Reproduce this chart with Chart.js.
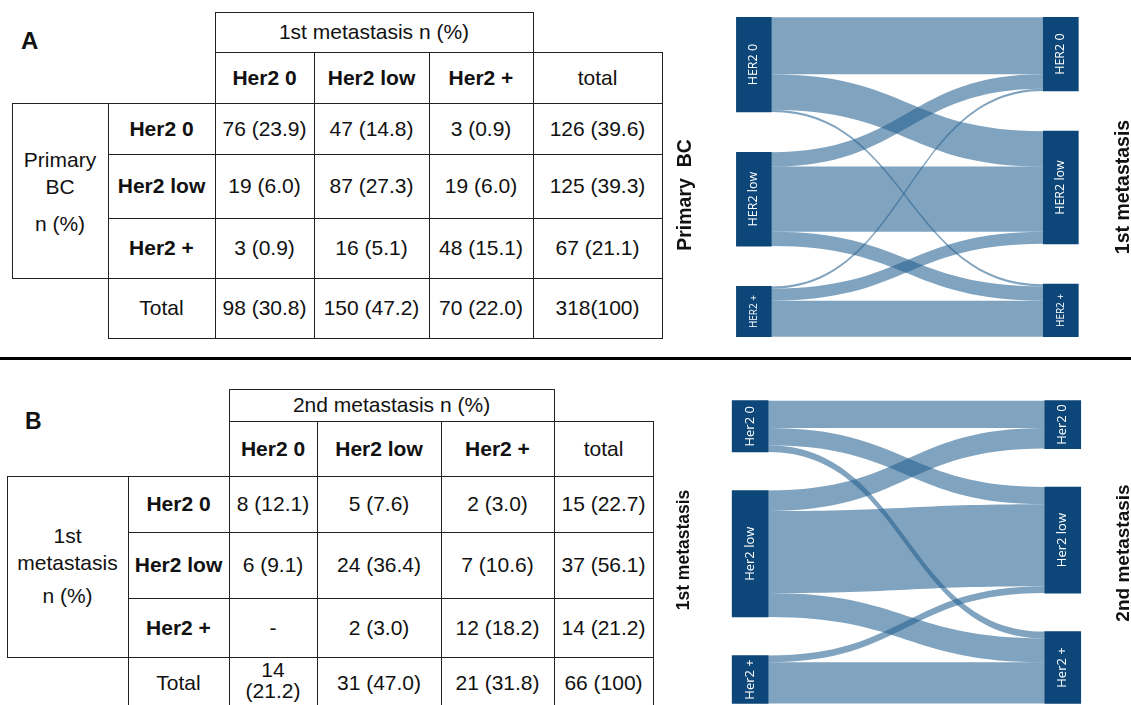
<!DOCTYPE html>
<html>
<head>
<meta charset="utf-8">
<script src="https://cdn.jsdelivr.net/npm/chart.js@4.4.1/dist/chart.umd.min.js"></script>
<style>
  html, body { margin: 0; padding: 0; background: #fff; width: 1131px; height: 705px; overflow: hidden; }
  #page { position: relative; width: 1131px; height: 705px; font-family: "Liberation Sans", Arial, sans-serif; color: #111; }
  .box { position: absolute; box-sizing: border-box; border: 1px solid #222; }
  .txt { position: absolute; height: 24px; line-height: 24px; font-size: 21px; text-align: center; white-space: pre; }
  .b { font-weight: bold; }
  .panel { position: absolute; font-weight: bold; font-size: 24px; line-height: 24px; }
  .sep { position: absolute; left: 0; top: 357px; width: 1131px; height: 3px; background: #000; }
  canvas { position: absolute; }
</style>
</head>
<body>
<div id="page">
  <div class="panel" style="left:21px;top:29px;">A</div>
  <div class="panel" style="left:25px;top:409px;font-size:23px;">B</div>
  <div class="sep"></div>
  <canvas id="sankeyA" width="466" height="350" style="left:665px;top:0px;"></canvas>
  <canvas id="sankeyB" width="466" height="345" style="left:665px;top:360px;"></canvas>
</div>
<script>
// HER2 categories shared by both cross-tables
const GROUPS = ['Her2 0', 'Her2 low', 'Her2 +'];

// A: primary breast cancer (rows) -> 1st metastasis (columns)
const A_COUNTS = [[76, 47, 3], [19, 87, 19], [3, 16, 48]];
const A_PCT = [['23.9', '14.8', '0.9'], ['6.0', '27.3', '6.0'], ['0.9', '5.1', '15.1']];
const A_ROW_TOTALS = ['126 (39.6)', '125 (39.3)', '67 (21.1)'];
const A_COL_TOTALS = ['98 (30.8)', '150 (47.2)', '70 (22.0)', '318(100)'];
const A_NODE_LABELS = ['HER2 0', 'HER2 low', 'HER2 +'];

// B: 1st metastasis (rows) -> 2nd metastasis (columns)
const B_COUNTS = [[8, 5, 2], [6, 24, 7], [0, 2, 12]];
const B_PCT = [['12.1', '7.6', '3.0'], ['9.1', '36.4', '10.6'], [null, '3.0', '18.2']];
const B_ROW_TOTALS = ['15 (22.7)', '37 (56.1)', '14 (21.2)'];
const B_COL_TOTALS = ['14\n(21.2)', '31 (47.0)', '21 (31.8)', '66 (100)'];
const B_NODE_LABELS = ['Her2 0', 'Her2 low', 'Her2 +'];

const page = document.getElementById('page');

function box(x0, y0, x1, y1) {
  const d = document.createElement('div');
  d.className = 'box';
  d.style.left = x0 + 'px'; d.style.top = y0 + 'px';
  d.style.width = (x1 - x0 + 1) + 'px'; d.style.height = (y1 - y0 + 1) + 'px';
  page.appendChild(d);
}
function text(x0, x1, yc, str, bold) {
  const d = document.createElement('div');
  d.className = 'txt' + (bold ? ' b' : '');
  d.style.left = x0 + 'px'; d.style.width = (x1 - x0) + 'px';
  d.style.top = (yc - 12) + 'px';
  d.textContent = str;
  page.appendChild(d);
}
function cellText(count, pct) {
  return (count === 0 && pct === null) ? '-' : count + ' (' + pct + ')';
}

// Cross-table: cols/rows are grid edges, blockLines are the left stub label lines
function buildTable(cols, rows, title, counts, pct, rowTotals, colTotals, blockLines) {
  const [c0, c1, c2, c3, c4, c5, c6] = cols;
  const [r0, r1, r2, r3, r4, r5, r6] = rows;
  const vc = [c2, c3, c4, c5, c6];
  const hr = [r2, r3, r4, r5];
  const mid = (a, b) => (a + b) / 2;

  box(c2, r0, c5, r1);
  text(c2, c5, mid(r0, r1), title, false);

  for (let j = 0; j < 4; j++) {
    box(vc[j], r1, vc[j + 1], r2);
    text(vc[j], vc[j + 1], mid(r1, r2), j < 3 ? GROUPS[j] : 'total', j < 3);
  }

  box(c0, r2, c1, r5);
  blockLines.forEach(([str, yc]) => text(c0, c1, yc, str, false));

  for (let i = 0; i < 3; i++) {
    box(c1, hr[i], c2, hr[i + 1]);
    text(c1, c2, mid(hr[i], hr[i + 1]), GROUPS[i], true);
    for (let j = 0; j < 3; j++) {
      box(vc[j], hr[i], vc[j + 1], hr[i + 1]);
      text(vc[j], vc[j + 1], mid(hr[i], hr[i + 1]), cellText(counts[i][j], pct[i][j]), false);
    }
    box(c5, hr[i], c6, hr[i + 1]);
    text(c5, c6, mid(hr[i], hr[i + 1]), rowTotals[i], false);
  }

  box(c1, r5, c2, r6);
  text(c1, c2, mid(r5, r6), 'Total', false);
  for (let j = 0; j < 4; j++) {
    box(vc[j], r5, vc[j + 1], r6);
    const parts = colTotals[j].split('\n');
    if (parts.length === 1) {
      text(vc[j], vc[j + 1], mid(r5, r6), parts[0], false);
    } else {
      text(vc[j], vc[j + 1], mid(r5, r6) - 13, parts[0], false);
      text(vc[j], vc[j + 1], mid(r5, r6) + 8, parts[1], false);
    }
  }
}

buildTable([12, 108, 215, 314, 429, 533, 662], [12, 52, 103, 154, 218, 278, 338],
  '1st metastasis n (%)', A_COUNTS, A_PCT, A_ROW_TOTALS, A_COL_TOTALS,
  [['Primary', 160], ['BC', 187], ['n (%)', 224]]);

buildTable([7, 128, 229, 317, 441, 554, 653], [389, 421, 476, 532, 598, 657, 709],
  '2nd metastasis n (%)', B_COUNTS, B_PCT, B_ROW_TOTALS, B_COL_TOTALS,
  [['1st', 536], ['metastasis', 563], ['n (%)', 596]]);

// ---------- Sankey diagrams ----------
// Stack node extents (in patient counts) with a fixed gap between nodes
function stackNodes(totals, gap) {
  let y = 0;
  return totals.map(t => { const r = [y, y + t]; y += t + gap; return r; });
}

const sankeyPlugin = {
  id: 'sankeyFlows',
  beforeDatasetsDraw(chart, args, opts) {
    const { ctx, scales: { x, y } } = chart;
    const half = opts.nodeWidth / 2;
    const x0 = x.getPixelForValue(0) + half;
    const x1 = x.getPixelForValue(1) - half;
    const xm = (x0 + x1) / 2;
    const counts = opts.counts;
    const srcOff = opts.left.map(r => r[0]);
    const tgtOff = opts.right.map(r => r[0]);
    ctx.save();
    ctx.fillStyle = opts.flowColor;
    for (let i = 0; i < counts.length; i++) {
      for (let j = 0; j < counts[i].length; j++) {
        const v = counts[i][j];
        if (!v) continue;
        const s0 = y.getPixelForValue(srcOff[i]), s1 = y.getPixelForValue(srcOff[i] + v);
        const t0 = y.getPixelForValue(tgtOff[j]), t1 = y.getPixelForValue(tgtOff[j] + v);
        srcOff[i] += v; tgtOff[j] += v;
        ctx.beginPath();
        ctx.moveTo(x0, s0);
        ctx.bezierCurveTo(xm, s0, xm, t0, x1, t0);
        ctx.lineTo(x1, t1);
        ctx.bezierCurveTo(xm, t1, xm, s1, x0, s1);
        ctx.closePath();
        ctx.fill();
      }
    }
    ctx.restore();
  },
  afterDatasetsDraw(chart, args, opts) {
    const { ctx } = chart;
    const meta = chart.getDatasetMeta(0);
    ctx.save();
    ctx.fillStyle = '#ffffff';
    ctx.textAlign = 'center';
    ctx.textBaseline = 'middle';
    meta.data.forEach((bar, k) => {
      const idx = k % 3;
      ctx.save();
      ctx.translate(bar.x, (bar.y + bar.base) / 2);
      ctx.rotate(-Math.PI / 2);
      ctx.font = opts.labelSizes[idx] + 'px "Open Sans", "Liberation Sans", sans-serif';
      ctx.fillText(opts.labels[idx], 0, 0);
      ctx.restore();
    });
    ctx.restore();
  },
  afterDraw(chart, args, opts) {
    const { ctx } = chart;
    ctx.save();
    ctx.fillStyle = '#111';
    ctx.textAlign = 'center';
    ctx.textBaseline = 'middle';
    opts.titles.forEach(t => {
      ctx.save();
      ctx.translate(t.x, t.y);
      ctx.rotate(-Math.PI / 2);
      ctx.font = 'bold ' + t.size + 'px "Liberation Sans", Arial, sans-serif';
      ctx.fillText(t.text, 0, 0);
      ctx.restore();
    });
    ctx.restore();
  }
};

function makeSankey(canvasId, counts, gap, nodeWidth, padding, labels, labelSizes, titles) {
  const rowTotals = counts.map(r => r.reduce((a, b) => a + b, 0));
  const colTotals = counts[0].map((_, j) => counts.reduce((a, r) => a + r[j], 0));
  const grand = rowTotals.reduce((a, b) => a + b, 0);
  const left = stackNodes(rowTotals, gap);
  const right = stackNodes(colTotals, gap);
  const nodes = left.map(r => ({ x: 0, y: r })).concat(right.map(r => ({ x: 1, y: r })));

  return new Chart(document.getElementById(canvasId), {
    type: 'bar',
    data: {
      datasets: [{
        label: 'nodes',
        data: nodes,
        backgroundColor: '#0d4679',
        borderWidth: 0,
        borderSkipped: false,
        barThickness: nodeWidth,
        clip: false
      }]
    },
    options: {
      responsive: false,
      animation: false,
      events: [],
      layout: { padding },
      scales: {
        x: { type: 'linear', min: 0, max: 1, display: false },
        y: { type: 'linear', min: 0, max: grand + 2 * gap, reverse: true, display: false }
      },
      plugins: {
        legend: { display: false },
        tooltip: { enabled: false },
        sankeyFlows: {
          counts, left, right, nodeWidth,
          flowColor: 'rgba(37, 97, 145, 0.58)',
          labels, labelSizes, titles
        }
      }
    },
    plugins: [sankeyPlugin]
  });
}

makeSankey('sankeyA', A_COUNTS, 53.7, 35,
  { left: 58.2, right: 39.5, top: 17.3, bottom: 13.3 },
  A_NODE_LABELS, [12.5, 12.5, 10],
  [{ text: 'Primary  BC', x: 21, y: 195, size: 19.5 },
   { text: '1st metastasis', x: 459, y: 187, size: 19.5 }]);

makeSankey('sankeyB', B_COUNTS, 11.26, 36,
  { left: 53.9, right: 37, top: 40.7, bottom: 1.6 },
  B_NODE_LABELS, [13, 13, 13],
  [{ text: '1st metastasis', x: 19, y: 190, size: 17.5 },
   { text: '2nd metastasis', x: 459, y: 193, size: 19 }]);
</script>
</body>
</html>
